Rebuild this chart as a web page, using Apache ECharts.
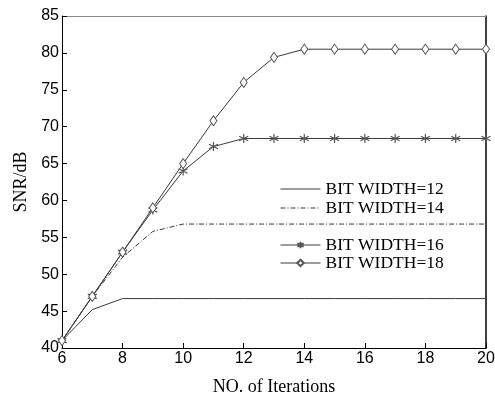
<!DOCTYPE html>
<html><head><meta charset="utf-8">
<script src="https://cdn.jsdelivr.net/npm/echarts@6/dist/echarts.min.js"></script>
<style>html,body{margin:0;padding:0;background:#fff}#c{width:495px;height:394px}</style>
</head><body><div id="c"></div>
<script>
const iterations = [6,7,8,9,10,11,12,13,14,15,16,17,18,19,20];
const bw12 = [41,45.2,46.7,46.7,46.7,46.7,46.7,46.7,46.7,46.7,46.7,46.7,46.7,46.7,46.7];
const bw14 = [41,47,52.3,55.8,56.8,56.8,56.8,56.8,56.8,56.8,56.8,56.8,56.8,56.8,56.8];
const bw16 = [41,47,53,58.7,64,67.3,68.4,68.4,68.4,68.4,68.4,68.4,68.4,68.4,68.4];
const bw18 = [41,47,53,59,65,70.8,76,79.4,80.5,80.5,80.5,80.5,80.5,80.5,80.5];
const names = ['BIT WIDTH=12','BIT WIDTH=14','BIT WIDTH=16','BIT WIDTH=18'];
const xTicks = [6,8,10,12,14,16,18,20];
const yTicks = [40,45,50,55,60,65,70,75,80,85];

const pair = a => iterations.map((x,i)=>[x,a[i]]);
const star = 'path://M0,-5L0,5M-4.5,-2.5L4.5,2.5M-4.5,2.5L4.5,-2.5';
const lineCol = '#3a3a3a';
const chart = echarts.init(document.getElementById('c'));
const sans = 'Liberation Sans', serif = 'Liberation Serif';
const legText = {fontFamily:serif,fontSize:17.5,color:'#000'};
chart.setOption({
  animation:false,
  backgroundColor:'#fff',
  grid:{left:62,right:9,top:16,bottom:46,containLabel:false,outerBoundsMode:'none'},
  legend:[
    {data:[{name:names[0],itemStyle:{opacity:0}},{name:names[1],itemStyle:{opacity:0}}],
     orient:'vertical',left:275,top:175,itemWidth:40,itemHeight:8,itemGap:1,
     lineStyle:{width:1},textStyle:legText},
    {data:names.slice(2,4),orient:'vertical',left:275,top:231,itemWidth:40,itemHeight:8,itemGap:0,
     lineStyle:{width:1},textStyle:legText}
  ],
  xAxis:[{type:'value',min:6,max:20,interval:2,
    name:'NO. of Iterations',nameLocation:'middle',nameGap:30,
    nameTextStyle:{fontFamily:serif,fontSize:18,color:'#000'},
    axisLine:{lineStyle:{color:'#000',width:1}},
    axisTick:{inside:true,length:5,lineStyle:{color:'#000'}},
    axisLabel:{fontFamily:sans,fontSize:16,color:'#000',margin:3,
      formatter:v=>xTicks.includes(v)?String(v):''},
    splitLine:{show:false}},
   {type:'value',position:'top',min:6,max:20,
    axisLine:{show:true,lineStyle:{color:'#888',width:1}},axisTick:{show:false},axisLabel:{show:false},splitLine:{show:false}}],
  yAxis:[{type:'value',min:40,max:85,interval:5,
    name:'SNR/dB',nameLocation:'middle',nameGap:26,
    nameTextStyle:{fontFamily:serif,fontSize:18,color:'#000'},
    axisLine:{show:true,lineStyle:{color:'#000',width:1}},
    axisTick:{show:true,inside:true,length:5,lineStyle:{color:'#000'}},
    axisLabel:{fontFamily:sans,fontSize:16,color:'#000',margin:3,
      formatter:v=>yTicks.includes(v)?String(v):''},
    splitLine:{show:false}},
   {type:'value',position:'right',min:40,max:85,
    axisLine:{show:true,lineStyle:{color:'#000',width:1.5}},axisTick:{show:false},axisLabel:{show:false},splitLine:{show:false}}],
  series:[
    {name:names[0],type:'line',data:pair(bw12),symbol:'none',
     lineStyle:{color:lineCol,width:1},itemStyle:{color:lineCol}},
    {name:names[1],type:'line',data:pair(bw14),symbol:'none',
     lineStyle:{color:lineCol,width:1,type:[5,2,1,2]},itemStyle:{color:lineCol}},
    {name:names[2],type:'line',data:pair(bw16),symbol:star,symbolSize:9,clip:false,
     lineStyle:{color:lineCol,width:1},itemStyle:{color:'#555',borderColor:'#555',borderWidth:1.2}},
    {name:names[3],type:'line',data:pair(bw18),symbol:'diamond',symbolSize:[7,10],clip:false,
     lineStyle:{color:lineCol,width:1},itemStyle:{color:'#fff',borderColor:'#555',borderWidth:1}}
  ]
});
</script></body></html>
